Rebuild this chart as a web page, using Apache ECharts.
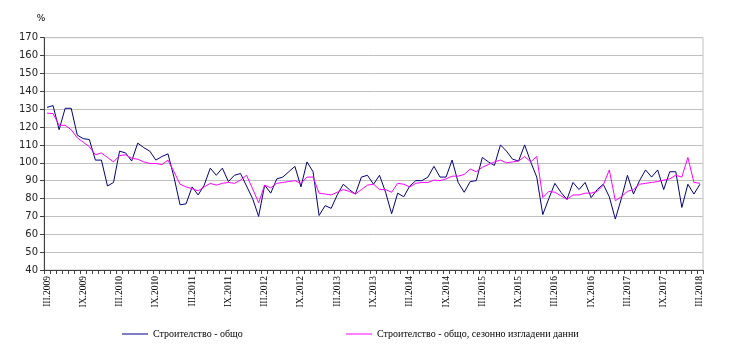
<!DOCTYPE html>
<html>
  <head>
    <meta charset="utf-8" />
    <title>ECharts</title>
    <script src="https://cdn.jsdelivr.net/npm/echarts@6/dist/echarts.min.js"></script>
  </head>
  <body style="margin:0">
    <style>
        html, body { margin: 0; background: #fff; }
        #main { width: 740px; height: 351px; }
    </style>
    <div id="main"></div>
    <script type="text/javascript">
      // months III.2009 .. III.2018
      var romanMonths = ['I', 'II', 'III', 'IV', 'V', 'VI', 'VII', 'VIII', 'IX', 'X', 'XI', 'XII'];
      var firstYear = 2009, firstMonth = 2, monthCount = 109;
      var categories = [];
      for (let i = 0; i < monthCount; i++) {
          let m = (firstMonth + i) % 12;
          let y = firstYear + Math.floor((firstMonth + i) / 12);
          categories.push(romanMonths[m] + '.' + y);
      }

      var totalName = 'Строителство - общо';
      var adjustedName = 'Строителство - общо, сезонно изгладени данни';

      var total = [
        131, 132, 118.5, 130.5, 130.5, 115.5, 113.5, 113, 101.5, 101.5,
        87, 89, 106.5, 105.5, 101, 111, 108.5, 106.5, 101.5, 103.5,
        105, 92, 76.5, 77, 86.5, 82, 87.5, 97, 93, 97,
        89.5, 93, 94, 87, 80, 70, 87.5, 83, 91, 92,
        95, 98, 86.5, 100.5, 95, 70.5, 76, 74.5, 82, 88,
        85, 82.5, 92, 93, 88, 93, 83.5, 71.5, 83, 81,
        87, 90, 90, 92, 98, 92, 92, 101.5, 89, 83.5,
        89.5, 90, 103, 100.5, 98.5, 110, 106.5, 102, 101, 110,
        100.5, 92, 71, 80, 88.5, 83.5, 79.5, 89, 85, 89,
        80.5, 85, 88, 81, 68.5, 80, 93, 82.5, 90, 96,
        92, 96, 85, 95, 95, 75, 88, 82.5, 88
      ];
      var adjusted = [
        127.8, 127.5, 121, 121, 118.5, 114, 111.5, 109, 104.5, 105.5,
        103, 100.5, 104, 104.5, 102.5, 102, 100.5, 99.6, 99.6, 99,
        101.5, 95, 88, 86.5, 85.5, 84.3, 86.5, 88.5, 87.5, 88.5,
        89, 88.5, 90.3, 93, 85.5, 77.6, 87.5, 86, 88.5, 89,
        89.5, 90, 88.5, 92, 92, 83, 82.5, 82, 83.5, 85,
        84, 82.5, 85, 87.5, 88, 85, 85, 83.5, 88.5, 88,
        86.5, 88.5, 89, 89, 90.3, 90, 91, 92.5, 92.5, 93.5,
        96.5, 95, 97.5, 99, 100.5, 101.5, 100, 100.5, 101, 103.5,
        100.5, 103.5, 80.5, 84, 83.5, 81.5, 79.5, 82, 82, 83,
        83, 84, 87.5, 96, 78.8, 81, 84, 85, 88, 88.5,
        89, 89.5, 90.3, 91, 93, 92, 103, 89, 88.5
      ];

      var myChart = echarts.init(document.getElementById('main'));
      var legendText = {
          fontFamily: 'Liberation Serif',
          fontSize: 10,
          color: '#000'
      };
      var option = {
          animation: false,
          legend: [{
              left: 122,
              top: 329,
              padding: 0,
              itemWidth: 26,
              itemHeight: 10,
              itemGap: 4,
              icon: 'path://M0,4.5L26,4.5L26,5.5L0,5.5Z',
              data: [totalName],
              textStyle: legendText
          }, {
              left: 346,
              top: 329,
              padding: 0,
              itemWidth: 26,
              itemHeight: 10,
              itemGap: 4,
              icon: 'path://M0,4.5L26,4.5L26,5.5L0,5.5Z',
              data: [adjustedName],
              textStyle: legendText
          }],
          grid: {
              left: 44,
              right: 37,
              top: 37.7,
              bottom: 81,
              show: true,
              borderColor: '#c0c0c0',
              borderWidth: 1
          },
          xAxis: {
              type: 'category',
              boundaryGap: true,
              data: categories,
              axisLine: { lineStyle: { color: '#404040', width: 1 } },
              axisTick: {
                  show: true,
                  interval: 0,
                  length: 4,
                  lineStyle: { color: '#404040' }
              },
              axisLabel: {
                  interval: 5,
                  rotate: 90,
                  margin: 6,
                  fontFamily: 'Liberation Serif',
                  fontSize: 9.5,
                  color: '#000'
              },
              splitLine: { show: false }
          },
          yAxis: {
              type: 'value',
              min: 40,
              max: 170,
              interval: 10,
              name: '%',
              nameLocation: 'end',
              nameGap: 15,
              nameTextStyle: {
                  fontFamily: 'DejaVu Sans',
                  fontSize: 9,
                  color: '#000',
                  padding: [0, 6, 0, 0]
              },
              axisLine: { show: true, lineStyle: { color: '#404040', width: 1 } },
              axisTick: { show: true, length: 4, lineStyle: { color: '#404040' } },
              axisLabel: {
                  margin: 6,
                  fontFamily: 'DejaVu Sans',
                  fontSize: 10,
                  color: '#222'
              },
              splitLine: { lineStyle: { color: '#c0c0c0', width: 1 } }
          },
          series: [{
              name: totalName,
              type: 'line',
              data: total,
              symbol: 'none',
              color: '#000080',
              lineStyle: { width: 1, color: '#000080' },
              z: 2
          }, {
              name: adjustedName,
              type: 'line',
              data: adjusted,
              symbol: 'none',
              color: '#ff00ff',
              lineStyle: { width: 1, color: '#ff00ff' },
              z: 3
          }]
      };
      myChart.setOption(option);
    </script>
  </body>
</html>
